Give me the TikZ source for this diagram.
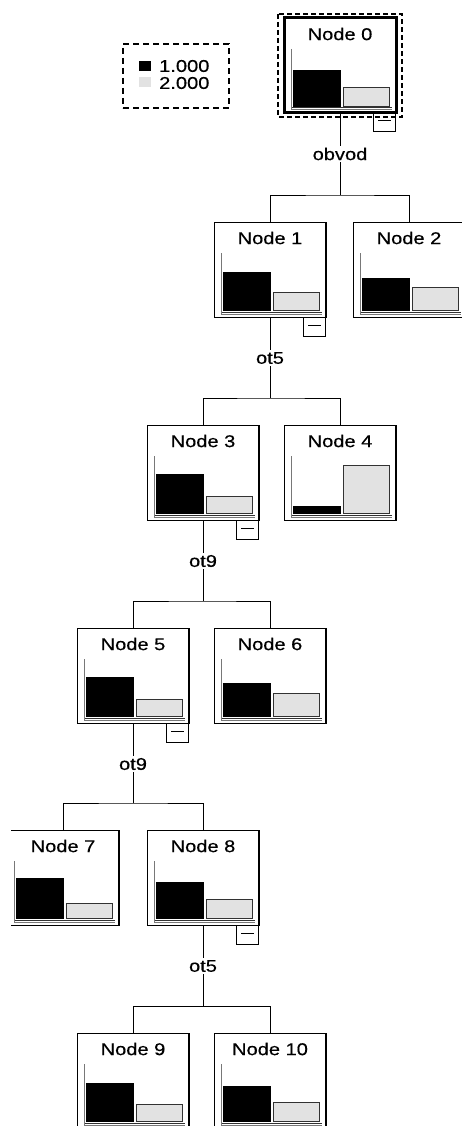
\documentclass[tikz,border=0pt]{standalone}
\usepackage{fontspec}
\setmainfont{Liberation Sans}[FakeStretch=1.18, FakeBold=0.5]
\usetikzlibrary{calc}
\definecolor{barfill}{RGB}{226,226,226}
\definecolor{axisgray}{RGB}{120,120,120}
\definecolor{baredge}{RGB}{50,50,50}
\tikzset{
  treetext/.style={font=\fontsize{17}{20}\selectfont, text=black},
  nodebox/.style={draw=black, line width=1pt, minimum width=112pt, minimum height=95pt,
    inner sep=0pt, outer sep=0pt, anchor=north west},
  titletext/.style={treetext, inner sep=0pt},
  axisline/.style={draw=axisgray, line width=1pt},
  baseaxis/.style={draw=baredge, line width=1pt},
  graybar/.style={draw=baredge, fill=barfill, line width=1pt},
  minusbox/.style={draw=black, line width=1pt, minimum width=22pt, minimum height=19pt,
    inner sep=0pt, outer sep=0pt, anchor=north east},
  splitlabel/.style={treetext, inner sep=2pt},
  edge/.style={draw=black, line width=1pt},
  selbox/.style={draw=black, line width=2.5pt, dash pattern=on 5pt off 3pt},
  legendbox/.style={draw=black, line width=1.5pt, dash pattern=on 6pt off 4pt,
    minimum width=106pt, minimum height=64pt, inner sep=0pt},
  keysq/.style={minimum width=12pt, minimum height=10pt, inner sep=0pt},
  keytxt/.style={treetext, inner sep=0pt, anchor=west},
}
% tree node: name, left, top, title, top of black bar, top of grey bar, border width
\newcommand\treebox[7]{%
  \begin{scope}[shift={(#2,#3)}]
    \node[nodebox, line width=#7] (#1) at (0,0) {};
    \draw[line width=1pt] (111,0) -- (111,95);
    \node[titletext] (#1-title) at (56,16) {#4};
    \draw[axisline] (7,31) -- (7,92) -- (108,92);
    \draw[baseaxis] (8,90) -- (108,90);
    \fill[black] (9,#5) rectangle (57,89);
    \draw[graybar] (59.5,#6) rectangle (105.5,88.5);
  \end{scope}}
% collapse marker under the lower right corner of a split node
\newcommand\collapsemark[1]{%
  \node[minusbox] (#1-minus) at ($(#1.south east)+(-0.5,0)$) {};
  \draw[line width=1pt] ($(#1-minus.center)+(-6.5,-1.5)$) -- ++(13,0);}
\begin{document}
\begin{tikzpicture}[x=1pt, y=-1pt]
  \useasboundingbox (0,0) rectangle (462,1126);
  \clip (11,0) rectangle (462,1126);

  % legend
  \node[legendbox] (legend) at (176,76) {};
  \node[keysq, fill=black] (key1) at (145,66) {};
  \node[keytxt] (key1-text) at (159,66) {1.000};
  \node[keysq, fill=barfill] (key2) at (145,82) {};
  \node[keytxt] (key2-text) at (159,83) {2.000};

  % nodes
  \treebox{n0}{284}{18}{Node 0}{52}{70}{3pt}
  \treebox{n1}{214}{222}{Node 1}{50}{70}{1pt}
  \treebox{n2}{353}{222}{Node 2}{56}{65}{1pt}
  \treebox{n3}{147}{425}{Node 3}{49}{71}{1pt}
  \treebox{n4}{284}{425}{Node 4}{81}{40}{1pt}
  \treebox{n5}{77}{628}{Node 5}{49}{71}{1pt}
  \treebox{n6}{214}{628}{Node 6}{55}{65}{1pt}
  \treebox{n7}{7}{830}{Node 7}{48}{73}{1pt}
  \treebox{n8}{147}{830}{Node 8}{52}{69}{1pt}
  \treebox{n9}{77}{1033}{Node 9}{50}{71}{1pt}
  \treebox{n10}{214}{1033}{Node 10}{53}{69}{1pt}

  % selection frame around the root
  \draw[selbox] ($(n0.north west)+(-6,-4)$) rectangle ($(n0.south east)+(6,4)$);

  \collapsemark{n0}
  \collapsemark{n1}
  \collapsemark{n3}
  \collapsemark{n5}
  \collapsemark{n8}

  % split labels
  \node[splitlabel] (s0) at (340,154) {obvod};
  \node[splitlabel] (s1) at (270,358) {ot5};
  \node[splitlabel] (s3) at (203,561) {ot9};
  \node[splitlabel] (s5) at (133,764) {ot9};
  \node[splitlabel] (s8) at (203,966) {ot5};

  % branch junctions
  \coordinate (j0) at (340,195);
  \coordinate (j1) at (270,398);
  \coordinate (j3) at (203,601);
  \coordinate (j5) at (133,803);
  \coordinate (j8) at (203,1006);

  % connectors
  \draw[edge] (n0.south) -- (s0.north);
  \draw[edge] (s0.south) -- (j0);
  \draw[edge] (n1.north) |- (j0) -| (n2.north);

  \draw[edge] (n1.south) -- (s1.north);
  \draw[edge] (s1.south) -- (j1);
  \draw[edge] (n3.north) |- (j1) -| (n4.north);

  \draw[edge] (n3.south) -- (s3.north);
  \draw[edge] (s3.south) -- (j3);
  \draw[edge] (n5.north) |- (j3) -| (n6.north);

  \draw[edge] (n5.south) -- (s5.north);
  \draw[edge] (s5.south) -- (j5);
  \draw[edge] (n7.north) |- (j5) -| (n8.north);

  \draw[edge] (n8.south) -- (s8.north);
  \draw[edge] (s8.south) -- (j8);
  \draw[edge] (n9.north) |- (j8) -| (n10.north);
\end{tikzpicture}
\end{document}
